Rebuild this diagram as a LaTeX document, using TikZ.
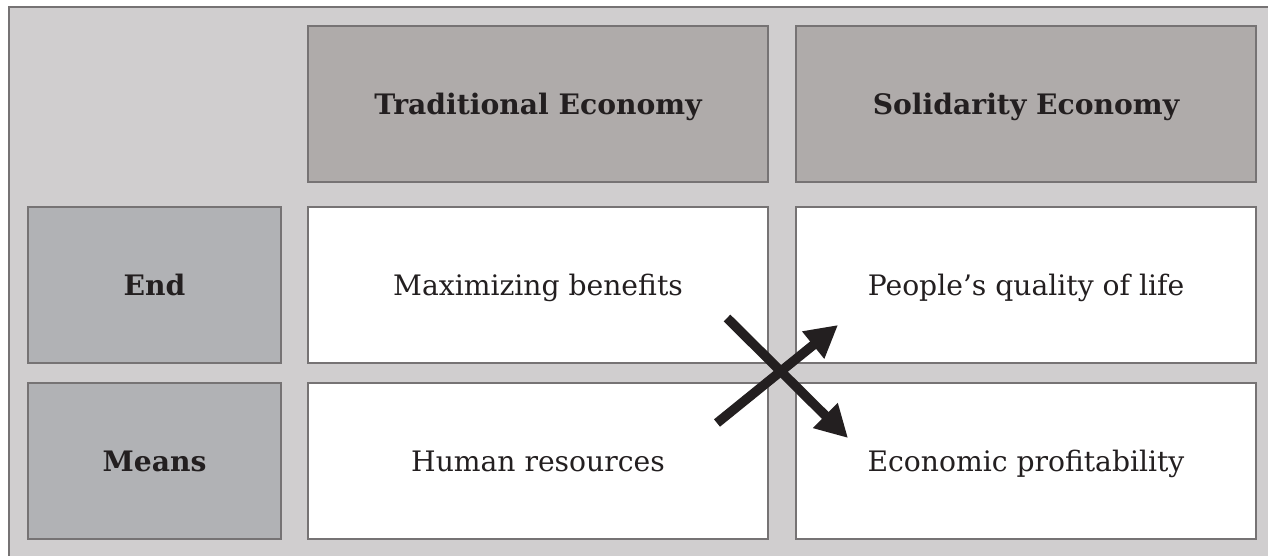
\documentclass[tikz,border=0pt]{standalone}
\usepackage{fontspec}
\setmainfont{DejaVu Serif}
\usetikzlibrary{arrows.meta}
\definecolor{bgc}{HTML}{D0CECF}
\definecolor{hdc}{HTML}{AFABAA}
\definecolor{rowc}{HTML}{B1B2B5}
\definecolor{edgec}{HTML}{767374}
\definecolor{txtc}{HTML}{231F20}
\tikzset{
  cell/.style={draw=edgec, line width=2.2pt, minimum width=460pt, minimum height=156pt, inner sep=0pt, text height=20.5pt, text depth=0pt, text=txtc, font=\fontsize{28.2}{32}\selectfont},
  hdr/.style={cell, fill=hdc, font=\fontsize{28.2}{32}\selectfont\bfseries},
  rowlab/.style={cell, fill=rowc, minimum width=253pt, font=\fontsize{28.2}{32}\selectfont\bfseries},
  body/.style={cell, fill=white},
  bigarrow/.style={draw=txtc, line width=9.5pt, -{Triangle[length=32pt,width=33pt]}}
}
\begin{document}
\begin{tikzpicture}[x=1pt,y=-1pt]
\useasboundingbox (0,0) rectangle (1268,556);
\draw[draw=edgec, fill=bgc, line width=2.2pt] (9,7) rectangle (1290,580);
\node[hdr] (trad) at (538,104) {Traditional Economy};
\node[hdr] (soli) at (1026,104) {Solidarity Economy};
\node[rowlab] (endl) at (154.5,285) {End};
\node[rowlab] (means) at (154.5,461) {Means};
\node[body] (maxb) at (538,285) {Maximizing benefits};
\node[body] (qual) at (1026,285) {People’s quality of life};
\node[body] (human) at (538,461) {Human resources};
\node[body] (profit) at (1026,461) {Economic profitability};
\coordinate (a1s) at (717,423);
\coordinate (a1e) at (838,325);
\coordinate (a2s) at (727,318);
\coordinate (a2e) at (848,438);
\draw[bigarrow] (a1s) -- (a1e);
\draw[bigarrow] (a2s) -- (a2e);
\end{tikzpicture}
\end{document}
